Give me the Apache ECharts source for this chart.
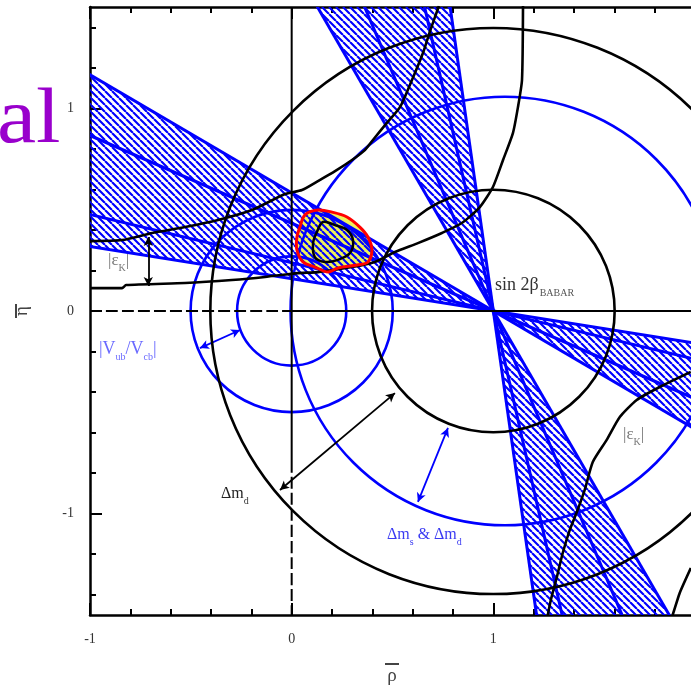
<!DOCTYPE html>
<html><head><meta charset="utf-8">
<script src="https://cdn.jsdelivr.net/npm/echarts@6/dist/echarts.min.js"></script>
<style>html,body{margin:0;padding:0;background:#fff}#c{width:691px;height:688px}</style>
</head><body><div id="c"></div><script>
// ---------- data ----------
const xMajorTicks = [-1, 0, 1];
const xMinorTicks = [-0.8,-0.6,-0.4,-0.2,0.2,0.4,0.6,0.8,1.2,1.4,1.6,1.8];
const yMajorTicks = [-1, 0, 1];
const yMinorTicks = [-1.4,-1.2,-0.8,-0.6,-0.4,-0.2,0.2,0.4,0.6,0.8,1.2,1.4];
const apex = [1, 0];
// sin2β bands: slopes s of lines eta = s*(1-rho) through the apex
const shallowBand = [0.159, 0.583];
const shallowLines = [0.159, 0.238, 0.433, 0.583];
const steepBand = [1.72, 7.0];
const steepLines = [1.72, 2.35, 4.4, 7.0];
// circles [rho0, eta0, radius]
const dmdCircles = [[1, 0, 0.6], [1, 0, 1.4]];
const vubCircles = [[0, 0, 0.27], [0, 0, 0.5]];
const dmsCircles = [[1.057, 0, 1.06]];
// |eps_K| curves
const epsKUpper = [[-1.0,0.345],[-0.841,0.350],[-0.692,0.385],[-0.529,0.414],[-0.365,0.449],[-0.197,0.498],[-0.033,0.577],[0.051,0.597],[0.130,0.641],[0.215,0.690],[0.299,0.745],[0.363,0.794],[0.403,0.844],[0.472,0.928],[0.537,1.006],[0.586,1.115],[0.651,1.273],[0.686,1.381],[0.730,1.505]];
const epsKUpperB = [[1.979,-1.268],[1.924,-1.391],[1.889,-1.500]];
const epsKLower = [[-1.0,0.113],[-0.841,0.113],[-0.821,0.128],[-0.529,0.138],[-0.296,0.153],[-0.132,0.168],[0.031,0.187],[0.130,0.192],[0.299,0.217],[0.413,0.242],[0.512,0.291],[0.626,0.335],[0.745,0.385],[0.844,0.434],[0.933,0.513],[0.998,0.612],[1.048,0.745],[1.097,0.878],[1.122,1.006],[1.142,1.140],[1.147,1.505]];
const epsKLowerB = [[1.979,-0.301],[1.825,-0.375],[1.711,-0.439],[1.627,-0.523],[1.562,-0.636],[1.493,-0.745],[1.453,-0.883],[1.414,-0.992],[1.379,-1.080],[1.344,-1.194],[1.315,-1.312],[1.285,-1.426],[1.270,-1.500]];
// combined fit contours
const fitOuter = [[0.066,0.474],[0.130,0.498],[0.200,0.488],[0.274,0.464],[0.338,0.414],[0.378,0.365],[0.398,0.301],[0.378,0.242],[0.324,0.227],[0.229,0.212],[0.180,0.192],[0.115,0.217],[0.056,0.242],[0.026,0.301],[0.026,0.365],[0.041,0.414]];
const fitInner = [[0.155,0.439],[0.215,0.424],[0.274,0.400],[0.304,0.350],[0.289,0.286],[0.229,0.252],[0.165,0.242],[0.115,0.266],[0.106,0.335],[0.125,0.390]];
// annotation arrows [from, to]
const blackArrows = [[[-0.058,-0.883],[0.512,-0.405]], [[-0.711,0.365],[-0.711,0.123]]];
const blueArrows = [[[-0.455,-0.183],[-0.256,-0.094]], [[0.626,-0.942],[0.775,-0.577]]];

// ---------- drawing ----------
const BLUE = '#0000ff';
const SERIF = '"Liberation Serif","DejaVu Serif",serif';
function makeHatch(){
  const c = document.createElement('canvas'); c.width = 7; c.height = 7;
  const g = c.getContext('2d'); g.strokeStyle = BLUE; g.lineWidth = 2.1;
  g.beginPath();
  for (const o of [-7, 0, 7]) { g.moveTo(o, 0); g.lineTo(o + 7, 7); }
  g.stroke();
  return c;
}
const hatch = {image: makeHatch(), repeat: 'repeat'};

function bandRender(params, api){
  const s1 = api.value(0), s2 = api.value(1), far = 4;
  const A = api.coord(apex);
  const L1 = api.coord([apex[0]-far, s1*far]), L2 = api.coord([apex[0]-far, s2*far]);
  const R1 = api.coord([apex[0]+far, -s1*far]), R2 = api.coord([apex[0]+far, -s2*far]);
  return {type:'group', children:[
    {type:'polygon', shape:{points:[A, L1, L2]}, style:{fill: hatch}},
    {type:'polygon', shape:{points:[A, R1, R2]}, style:{fill: hatch}}
  ]};
}
function lineRender(params, api){
  const s = api.value(0), far = 4;
  const p1 = api.coord([apex[0]-far, s*far]), p2 = api.coord([apex[0]+far, -s*far]);
  return {type:'line', shape:{x1:p1[0], y1:p1[1], x2:p2[0], y2:p2[1]}, style:{stroke: BLUE, lineWidth: 3, fill: null}};
}
function circleSeries(data, color, width, z){
  return {type:'custom', coordinateSystem:'cartesian2d', clip:true, silent:true, z,
    data, renderItem(params, api){
      const c = api.coord([api.value(0), api.value(1)]);
      const r = (api.size([api.value(2), 0])[0] + api.size([0, api.value(2)])[1]) / 2;
      return {type:'circle', shape:{cx:c[0], cy:c[1], r}, style:{fill:null, stroke:color, lineWidth:width}};
    }};
}
function polySeries(points, style, z){
  return {type:'custom', coordinateSystem:'cartesian2d', clip:true, silent:true, z,
    data: points, renderItem(params, api){
      if (params.dataIndex !== 0) return null;
      return {type:'polygon', shape:{points: points.map(p => api.coord(p)), smooth: 0.35}, style};
    }};
}
function curve(data, color, width, z, type){
  return {type:'line', data, showSymbol:false, silent:true, z, smooth:0.2,
    lineStyle:{color, width, type: type || 'solid'}};
}
function arrows(list, color){
  return {type:'line', data:[], silent:true, z:9,
    markLine:{silent:true, symbol:['arrow','arrow'], symbolSize:[7,9], label:{show:false},
      lineStyle:{color, width:1.8, type:'solid'},
      data: list.map(a => [{coord:a[0]}, {coord:a[1]}])}};
}

const axisCommon = {min:-1, max:1.98, type:'value', splitLine:{show:false}};
const yCommon = {min:-1.5, max:1.5, type:'value', splitLine:{show:false}};
const labelFont = {fontFamily: SERIF, fontSize: 14, color:'#333'};
const frameLine = {show:true, onZero:false, lineStyle:{color:'#000', width:2.5}};
const noLine = {show:false, onZero:false};

const option = {
  animation:false,
  grid:{left:90, right:0, top:7, bottom:73},
  xAxis:[
    Object.assign({}, axisCommon, {position:'bottom', axisLine:frameLine,
      axisTick:{show:true, inside:true, length:12, customValues:xMajorTicks, lineStyle:{color:'#000', width:2}},
      axisLabel:Object.assign({customValues:xMajorTicks, margin:17}, labelFont)}),
    Object.assign({}, axisCommon, {position:'bottom', axisLine:noLine,
      axisTick:{show:true, inside:true, length:6, customValues:xMinorTicks, lineStyle:{color:'#000', width:2}},
      axisLabel:{show:false}}),
    Object.assign({}, axisCommon, {position:'top', axisLine:frameLine,
      axisTick:{show:true, inside:true, length:12, customValues:xMajorTicks, lineStyle:{color:'#000', width:2}},
      axisLabel:{show:false}}),
    Object.assign({}, axisCommon, {position:'top', axisLine:noLine,
      axisTick:{show:true, inside:true, length:6, customValues:xMinorTicks, lineStyle:{color:'#000', width:2}},
      axisLabel:{show:false}})
  ],
  yAxis:[
    Object.assign({}, yCommon, {position:'left', axisLine:frameLine,
      axisTick:{show:true, inside:true, length:12, customValues:yMajorTicks, lineStyle:{color:'#000', width:2}},
      axisLabel:Object.assign({customValues:yMajorTicks, margin:16}, labelFont)}),
    Object.assign({}, yCommon, {position:'left', axisLine:noLine,
      axisTick:{show:true, inside:true, length:6, customValues:yMinorTicks, lineStyle:{color:'#000', width:2}},
      axisLabel:{show:false}})
  ],
  series:[
    polySeries(fitOuter, {fill:'#eef25a', stroke:null}, 1),
    {type:'custom', coordinateSystem:'cartesian2d', clip:true, silent:true, z:2,
      data:[shallowBand, steepBand], renderItem: bandRender},
    {type:'custom', coordinateSystem:'cartesian2d', clip:true, silent:true, z:3,
      data:shallowLines.concat(steepLines).map(s => [s]), renderItem: lineRender},
    circleSeries(vubCircles, BLUE, 2.6, 4),
    circleSeries(dmsCircles, BLUE, 2.6, 4),
    circleSeries(dmdCircles, '#000', 2.6, 5),
    curve(epsKUpper, '#000', 2.6, 5),
    curve(epsKUpperB, '#000', 2.6, 5),
    curve(epsKLower, '#000', 2.6, 5),
    curve(epsKLowerB, '#000', 2.6, 5),
    polySeries(fitOuter, {fill:null, stroke:'#ff0000', lineWidth:3}, 6),
    polySeries(fitInner, {fill:null, stroke:'#000', lineWidth:2.5}, 6),
    curve([[-1,0],[0,0]], '#000', 2, 7, [12,4]),
    curve([[0,0],[1.98,0]], '#000', 2, 7),
    curve([[0,1.5],[0,-0.74]], '#000', 2, 7),
    curve([[0,-0.74],[0,-1.5]], '#000', 2, 7, [12,4]),
    arrows(blackArrows, '#000'),
    arrows(blueArrows, BLUE)
  ],
  graphic:[
    {type:'text', x:-3, y:83, scaleX:1.13, style:{text:'al', font:'78px '+SERIF, fill:'#9900cc'}},
    // rotated axis name: eta with bar
    {type:'text', x:22, y:311, rotation:Math.PI/2, style:{text:'η', font:'19px '+SERIF, fill:'#444', align:'center', verticalAlign:'middle'}},
    {type:'line', shape:{x1:16, y1:304, x2:16, y2:318}, style:{stroke:'#444', lineWidth:2}},
    {type:'text', x:392, y:676, style:{text:'ρ', font:'19px '+SERIF, fill:'#444', align:'center', verticalAlign:'middle'}},
    {type:'line', shape:{x1:385, y1:664, x2:399, y2:664}, style:{stroke:'#444', lineWidth:2}},
    {type:'text', left:108, top:252, style:{text:'{a||ε}{b|K}{a||}',
      rich:{a:{font:'17px '+SERIF, fill:'#777', verticalAlign:'bottom', padding:[0,0,4,0]}, b:{font:'10px '+SERIF, fill:'#777', verticalAlign:'bottom'}}}},
    {type:'text', left:623, top:426, style:{text:'{a||ε}{b|K}{a||}',
      rich:{a:{font:'17px '+SERIF, fill:'#777', verticalAlign:'bottom', padding:[0,0,4,0]}, b:{font:'10px '+SERIF, fill:'#777', verticalAlign:'bottom'}}}},
    {type:'text', left:495, top:276, style:{text:'{a|sin 2β}{b|BABAR}',
      rich:{a:{font:'18px '+SERIF, fill:'#333', verticalAlign:'bottom', padding:[0,1,4,0]}, b:{font:'10px '+SERIF, fill:'#555', verticalAlign:'bottom'}}}},
    {type:'text', left:221, top:486, style:{text:'{a|Δm}{b|d}',
      rich:{a:{font:'16px '+SERIF, fill:'#222', verticalAlign:'bottom', padding:[0,0,4,0]}, b:{font:'10px '+SERIF, fill:'#333', verticalAlign:'bottom'}}}},
    {type:'text', left:387, top:527, style:{text:'{a|Δm}{b|s}{a| & Δm}{b|d}',
      rich:{a:{font:'16px '+SERIF, fill:'#3a3af2', verticalAlign:'bottom', padding:[0,0,4,0]}, b:{font:'10px '+SERIF, fill:'#3a3af2', verticalAlign:'bottom'}}}},
    {type:'text', left:99, top:340, style:{text:'{a||V}{b|ub}{a|/V}{b|cb}{a||}',
      rich:{a:{font:'18px '+SERIF, fill:'#6a6aff', verticalAlign:'bottom', padding:[0,0,4,0]}, b:{font:'10px '+SERIF, fill:'#6a6aff', verticalAlign:'bottom'}}}}
  ]
};
const chart = echarts.init(document.getElementById('c'), null, {renderer:'canvas'});
chart.setOption(option);
</script></body></html>
